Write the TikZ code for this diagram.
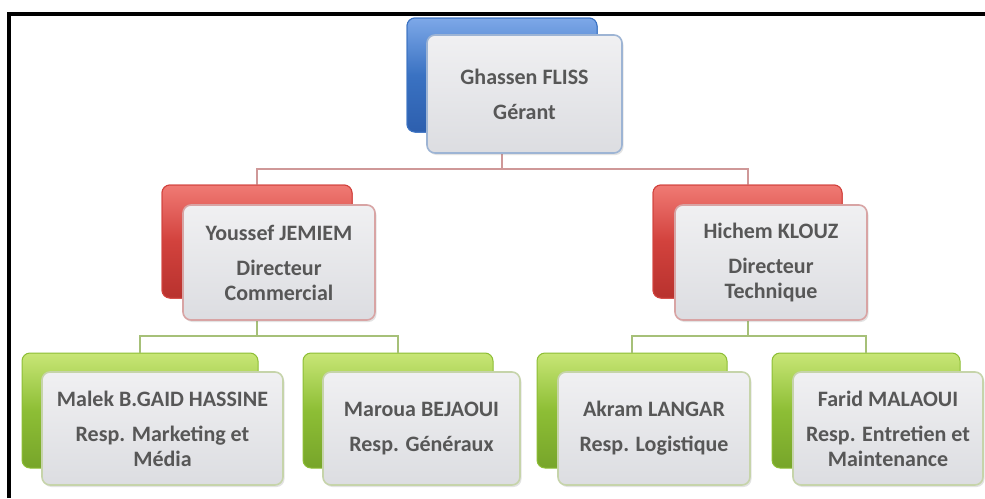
\documentclass[tikz,border=0pt]{standalone}
\usepackage{fontspec}
\setmainfont{Carlito}
\usetikzlibrary{shadows}
\definecolor{txt}{HTML}{575757}
\definecolor{blueA}{HTML}{7DA8E8}
\definecolor{blueB}{HTML}{3A72C2}
\definecolor{blueC}{HTML}{2D5FAE}
\definecolor{redA}{HTML}{F07A74}
\definecolor{redB}{HTML}{D2423D}
\definecolor{redC}{HTML}{B8322E}
\definecolor{grnA}{HTML}{C8E676}
\definecolor{grnB}{HTML}{8DBE35}
\definecolor{grnC}{HTML}{77A52A}
\definecolor{edgeBlue}{HTML}{9DB4D4}
\definecolor{edgeRed}{HTML}{D8A4A4}
\definecolor{edgeGrn}{HTML}{C6D4AA}
\definecolor{lineRed}{HTML}{CF9898}
\definecolor{lineGrn}{HTML}{A6C078}
\definecolor{cardTop}{HTML}{F0F0F2}
\definecolor{cardBot}{HTML}{DCDDE1}
\begin{document}
\begin{tikzpicture}[x=1pt,y=-1pt,
  back/.style={rectangle, rounded corners=8pt, inner sep=0pt},
  backblue/.style={back, top color=blueA, bottom color=blueC, middle color=blueB, draw=blueB, line width=1pt},
  backred/.style={back, top color=redA, bottom color=redC, middle color=redB, draw=redB, line width=1pt},
  backgrn/.style={back, top color=grnA, bottom color=grnC, middle color=grnB, draw=grnB, line width=1pt},
  card/.style={rectangle, rounded corners=8pt, inner sep=2pt, align=center,
    top color=cardTop, bottom color=cardBot, line width=1.6pt, text=txt,
    font=\fontsize{22}{25}\selectfont\bfseries,
    drop shadow={opacity=0.22, shadow xshift=1.5pt, shadow yshift=-2pt}},
  cardblue/.style={card, draw=edgeBlue},
  cardred/.style={card, draw=edgeRed},
  cardgrn/.style={card, draw=edgeGrn},
  linkred/.style={draw=lineRed, line width=2pt},
  linkgrn/.style={draw=lineGrn, line width=2pt}]

\useasboundingbox (0,0) rectangle (985,498);
\fill[white] (0,0) rectangle (985,498);

% frame: top and left rules
\draw[line width=4pt] (9,498) -- (9,14) -- (985,14);

% coloured back plates
\node[backblue, minimum width=190pt, minimum height=114pt] (gback) at (502,75) {};
\node[backred, minimum width=190pt, minimum height=113pt] (yback) at (257,241.5) {};
\node[backred, minimum width=189pt, minimum height=113pt] (hback) at (747.5,241.5) {};
\node[backgrn, minimum width=236pt, minimum height=115pt] (m1back) at (140,410.5) {};
\node[backgrn, minimum width=190pt, minimum height=115pt] (m2back) at (398,410.5) {};
\node[backgrn, minimum width=190pt, minimum height=115pt] (m3back) at (632,410.5) {};
\node[backgrn, minimum width=188pt, minimum height=115pt] (m4back) at (866,410.5) {};

% connectors between levels
\draw[linkred] (gback.south) -- ++(0,36) -| (yback.north);
\draw[linkred] (gback.south) -- ++(0,36) -| (hback.north);
\draw[linkgrn] (yback.south) -- ++(0,37) -| (m1back.north);
\draw[linkgrn] (yback.south) -- ++(0,37) -| (m2back.north);
\draw[linkgrn] (hback.south) -- ++(0,37) -| (m3back.north);
\draw[linkgrn] (hback.south) -- ++(0,37) -| (m4back.north);

% plates drawn again over the connector ends
\node[backblue, minimum width=190pt, minimum height=114pt] at (gback) {};
\node[backred, minimum width=190pt, minimum height=113pt] at (yback) {};
\node[backred, minimum width=189pt, minimum height=113pt] at (hback) {};

% cards with names and roles
\node[cardblue, minimum width=195pt, minimum height=118pt] (gcard) at (524.5,94)
  {Ghassen FLISS\\[10pt]Gérant};
\node[cardred, minimum width=192pt, minimum height=115pt] (ycard) at (279,262.5)
  {Youssef JEMIEM\\[10pt]Directeur\\Commercial};
\node[cardred, minimum width=192pt, minimum height=115pt] (hcard) at (771,262.5)
  {Hichem KLOUZ\\[10pt]Directeur\\Technique};
\node[cardgrn, minimum width=241pt, minimum height=113pt] (m1card) at (162.5,428.5)
  {Malek B.GAID HASSINE\\[10pt]Resp. Marketing et\\Média};
\node[cardgrn, minimum width=197pt, minimum height=113pt] (m2card) at (421.5,428.5)
  {Maroua BEJAOUI\\[10pt]Resp. Généraux};
\node[cardgrn, minimum width=192pt, minimum height=113pt] (m3card) at (654,428.5)
  {Akram LANGAR\\[10pt]Resp. Logistique};
\node[cardgrn, minimum width=190pt, minimum height=113pt] (m4card) at (888,428.5)
  {Farid MALAOUI\\[10pt]Resp. Entretien et\\Maintenance};
\end{tikzpicture}
\end{document}
